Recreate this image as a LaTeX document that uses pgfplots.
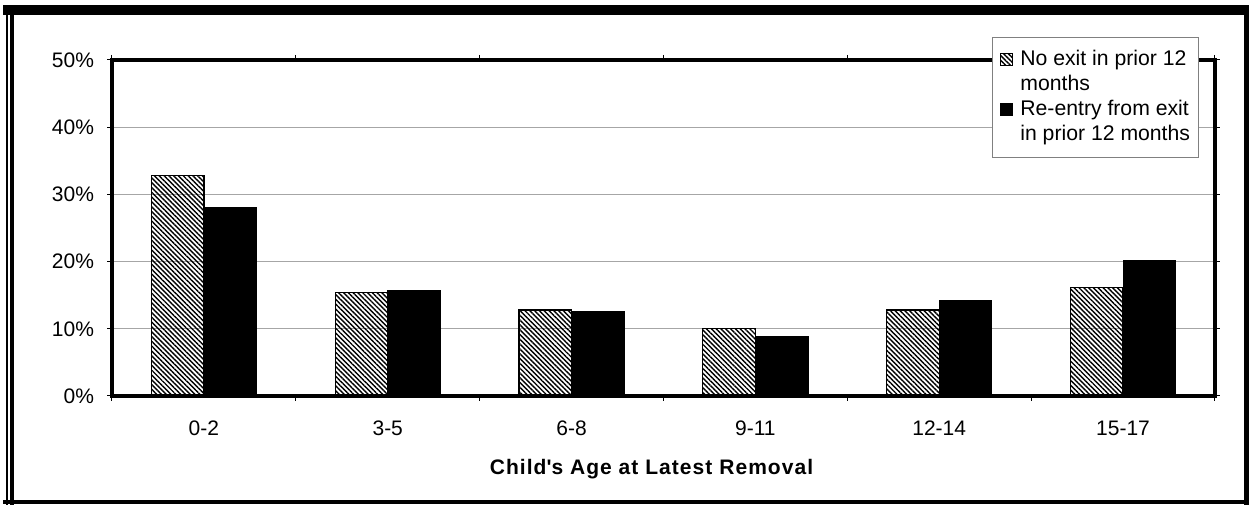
\documentclass[border=0pt]{standalone}
\usepackage{pgfplots}
\pgfplotsset{compat=1.18}
\usepackage{fontspec}
\setmainfont{Liberation Sans}
\newfontfamily\spaced[LetterSpace=5]{Liberation Sans}
\usetikzlibrary{patterns.meta}
\begin{document}
\begin{tikzpicture}
\useasboundingbox (0,0) rectangle (624.5pt,253.5pt);
% outer frame
\draw[line width=0.6pt] (3.5pt,1pt) -- (3.5pt,251pt);
\draw[line width=2pt] (6pt,1pt) -- (6pt,251pt);
\fill[black] (1.5pt,246pt) rectangle (624.5pt,251pt);
\draw[line width=2.5pt] (623pt,1pt) -- (623pt,251pt);
\draw[line width=2pt] (1.5pt,2.5pt) -- (624.5pt,2.5pt);
\begin{axis}[
  at={(56pt,55.5pt)}, anchor=south west,
  scale only axis, width=551.5pt, height=168pt,
  ybar=0pt, bar width=26.3pt,
  xmin=-0.5, xmax=5.5, ymin=0, ymax=50,
  xtick={-0.5,0.5,1.5,2.5,3.5,4.5,5.5},
  x tick label as interval,
  xticklabels={0-2,3-5,6-8,9-11,12-14,15-17},
  ytick={0,10,20,30,40,50},
  yticklabels={0\%,10\%,20\%,30\%,40\%,50\%},
  ymajorgrids, grid style={gray!70, line width=0.6pt},
  axis line style={line width=1.8pt},
  tick style={black, line width=0.5pt},
  tick align=outside, major tick length=2.5pt,
  xticklabel style={yshift=-6.5pt},
  yticklabel style={xshift=-3pt},
  font=\fontsize{10.5}{12.5}\selectfont,
  xlabel={\spaced\bfseries Child\textquotesingle s Age at Latest Removal},
  xlabel style={yshift=-5pt, xshift=-6pt},
  legend style={at={(0.7978,1.0685)}, anchor=north west, draw=gray, fill=white,
    font=\fontsize{10.6}{12.8}\selectfont,
    nodes={text height=8pt, text depth=2.5pt, inner ysep=1pt},
    inner xsep=2pt, inner ysep=5pt, row sep=0pt},
  legend cell align=left,
  legend image code/.code={\path[draw=none,fill=none,pattern=none] (-1pt,0pt) -- (9pt,0pt);\draw[#1] (1pt,-3pt) rectangle (7pt,3pt);},
]
\addplot[bar shift=-13.15pt, draw=black, line width=0.6pt, pattern={Lines[angle=-45,distance=1.7pt,line width=0.7pt]}]
  coordinates {(0,32.8) (1,15.4) (2,12.8) (3,10.1) (4,12.8) (5,16.1)};
\addlegendentry{No exit in prior 12}
\addlegendimage{empty legend}
\addlegendentry{months}
\addplot[bar shift=13.15pt, draw=black, fill=black]
  coordinates {(0,28.0) (1,15.7) (2,12.6) (3,8.8) (4,14.2) (5,20.2)};
\addlegendentry{Re-entry from exit}
\addlegendimage{empty legend}
\addlegendentry{in prior 12 months}
\end{axis}
\end{tikzpicture}
\end{document}
